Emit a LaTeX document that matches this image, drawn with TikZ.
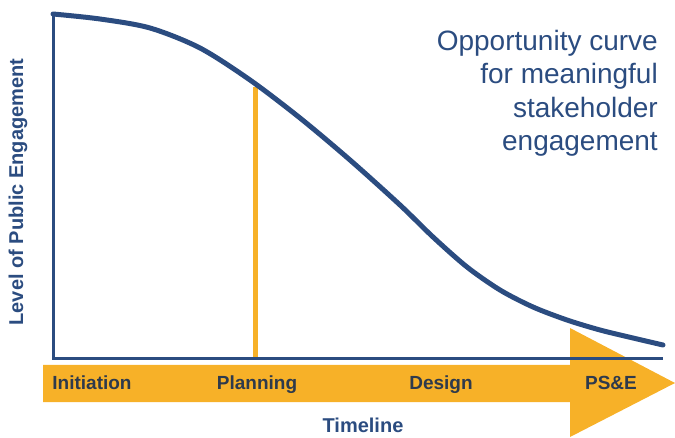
\documentclass[tikz,border=0pt]{standalone}
\usepackage{fontspec}
\setmainfont{Liberation Sans}
\usepackage{tikz}
\usetikzlibrary{arrows, positioning}

\definecolor{curveblue}{RGB}{43,76,128}
\definecolor{bandyellow}{RGB}{247,177,40}
\definecolor{labelgrey}{RGB}{46,58,76}

\tikzset{
  phase/.style={anchor=base, inner sep=0pt, text=labelgrey, font=\fontsize{19}{22}\selectfont\bfseries},
  axislabel/.style={inner sep=0pt, text=curveblue, font=\fontsize{20}{24}\selectfont\bfseries}
}

\begin{document}
\begin{tikzpicture}[x=1pt, y=1pt]
  \useasboundingbox (0,0) rectangle (675,-438);
  % timeline arrow
  \fill[bandyellow] (43,-365) -- (570,-365) -- (570,-328) -- (675,-383)
    -- (570,-437) -- (570,-402) -- (43,-402) -- cycle;
  \node[phase] (init) at (92,-390) {Initiation};
  \node[phase] (plan) at (257,-390) {Planning};
  \node[phase] (design) at (441,-390) {Design};
  \node[phase] (pse) at (611,-390) {PS\&E};
  \node[axislabel] (time) at (363,-425) {Timeline};
  \node[axislabel, rotate=90] (level) at (18,-192) {Level of Public Engagement};
  % planning marker
  \draw[bandyellow, line width=5pt] (255,-87) -- (255,-359);
  % axes
  \draw[curveblue, line width=3pt] (53,-14) -- (53,-359) -- (663,-359);
  % opportunity curve
  \draw[curveblue, line width=5pt, line cap=round] plot[smooth, tension=0.5] coordinates {
    (53,-14) (100,-19) (150,-28) (200,-48) (250,-80) (300,-118) (350,-160)
    (400,-205) (433,-237) (467,-267) (500,-290) (533,-307) (567,-320)
    (600,-330) (633,-338) (663,-345)};
  \node[anchor=north east, align=right, inner sep=0pt, text=curveblue,
    font=\fontsize{28}{33.5}\selectfont] (title) at (658,-30)
    {Opportunity curve\\for meaningful\\stakeholder\\engagement};
\end{tikzpicture}
\end{document}
